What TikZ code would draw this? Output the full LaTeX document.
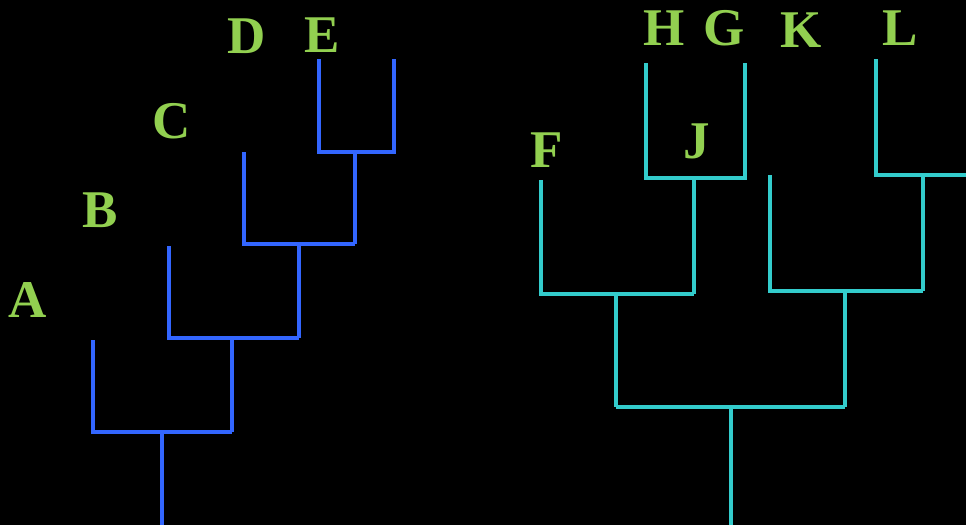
\documentclass[tikz,border=0pt]{standalone}
\usepackage{fontspec}
\setmainfont{Liberation Serif}
\definecolor{bluetree}{HTML}{3366FF}
\definecolor{cyantree}{HTML}{33CCCC}
\definecolor{lblgreen}{HTML}{92D050}
\begin{document}
\begin{tikzpicture}[x=1pt,y=-1pt,
  blueline/.style={draw=bluetree,line width=4.5pt,line cap=butt,line join=miter},
  cyanline/.style={draw=cyantree,line width=4.5pt,line cap=butt,line join=miter},
  lbl/.style={text=lblgreen,font=\fontsize{53}{53}\selectfont\bfseries,anchor=base,inner sep=0pt}]
\fill[black] (0,0) rectangle (966,525);
\useasboundingbox (0,0) rectangle (966,525);
% labels
\node[lbl] (A) at (28,317) {A};
\node[lbl] (B) at (100,227) {B};
\node[lbl] (C) at (172,138) {C};
\node[lbl] (D) at (247,53) {D};
\node[lbl] (E) at (322,52) {E};
\node[lbl] (F) at (547,167) {F};
\node[lbl] (J) at (697,158) {J};
\node[lbl] (H) at (664,45) {H};
\node[lbl] (G) at (724,45) {G};
\node[lbl] (K) at (801,47) {K};
\node[lbl] (L) at (900,45) {L};
% left tree coordinates
\coordinate (e1) at (319,59);
\coordinate (e2) at (394,59);
\coordinate (e1b) at (319,152);
\coordinate (e2b) at (394,152);
\coordinate (de) at (355,152);
\coordinate (deb) at (355,244);
\coordinate (d1) at (244,152);
\coordinate (d1b) at (244,244);
\coordinate (cd) at (299,244);
\coordinate (cdb) at (299,338);
\coordinate (c1) at (169,246);
\coordinate (c1b) at (169,338);
\coordinate (bc) at (232,338);
\coordinate (bcb) at (232,432);
\coordinate (a1) at (93,340);
\coordinate (a1b) at (93,432);
\coordinate (rootL) at (162,432);
\coordinate (rootLb) at (162,525);
\draw[blueline] (e1) -- (e1b) -- (e2b) -- (e2);
\draw[blueline] (de) -- (deb);
\draw[blueline] (d1) -- (d1b) -- (deb);
\draw[blueline] (cd) -- (cdb);
\draw[blueline] (c1) -- (c1b) -- (cdb);
\draw[blueline] (bc) -- (bcb);
\draw[blueline] (a1) -- (a1b) -- (bcb);
\draw[blueline] (rootL) -- (rootLb);
% right tree coordinates
\coordinate (h1) at (646,63);
\coordinate (h1b) at (646,178);
\coordinate (g1) at (745,63);
\coordinate (g1b) at (745,178);
\coordinate (hg) at (694,178);
\coordinate (hgb) at (694,294);
\coordinate (f1) at (541,180);
\coordinate (f1b) at (541,294);
\coordinate (fj) at (616,294);
\coordinate (fjb) at (616,407);
\coordinate (k1) at (770,175);
\coordinate (k1b) at (770,291);
\coordinate (l1) at (876,59);
\coordinate (l1b) at (876,175);
\coordinate (lr) at (966,175);
\coordinate (kl) at (923,175);
\coordinate (klb) at (923,291);
\coordinate (kk) at (845,291);
\coordinate (kkb) at (845,407);
\coordinate (rootR) at (731,407);
\coordinate (rootRb) at (731,525);
\draw[cyanline] (h1) -- (h1b) -- (g1b) -- (g1);
\draw[cyanline] (hg) -- (hgb);
\draw[cyanline] (f1) -- (f1b) -- (hgb);
\draw[cyanline] (fj) -- (fjb);
\draw[cyanline] (l1) -- (l1b) -- (lr);
\draw[cyanline] (kl) -- (klb);
\draw[cyanline] (k1) -- (k1b) -- (klb);
\draw[cyanline] (kk) -- (kkb);
\draw[cyanline] (fjb) -- (kkb);
\draw[cyanline] (rootR) -- (rootRb);
\end{tikzpicture}
\end{document}
